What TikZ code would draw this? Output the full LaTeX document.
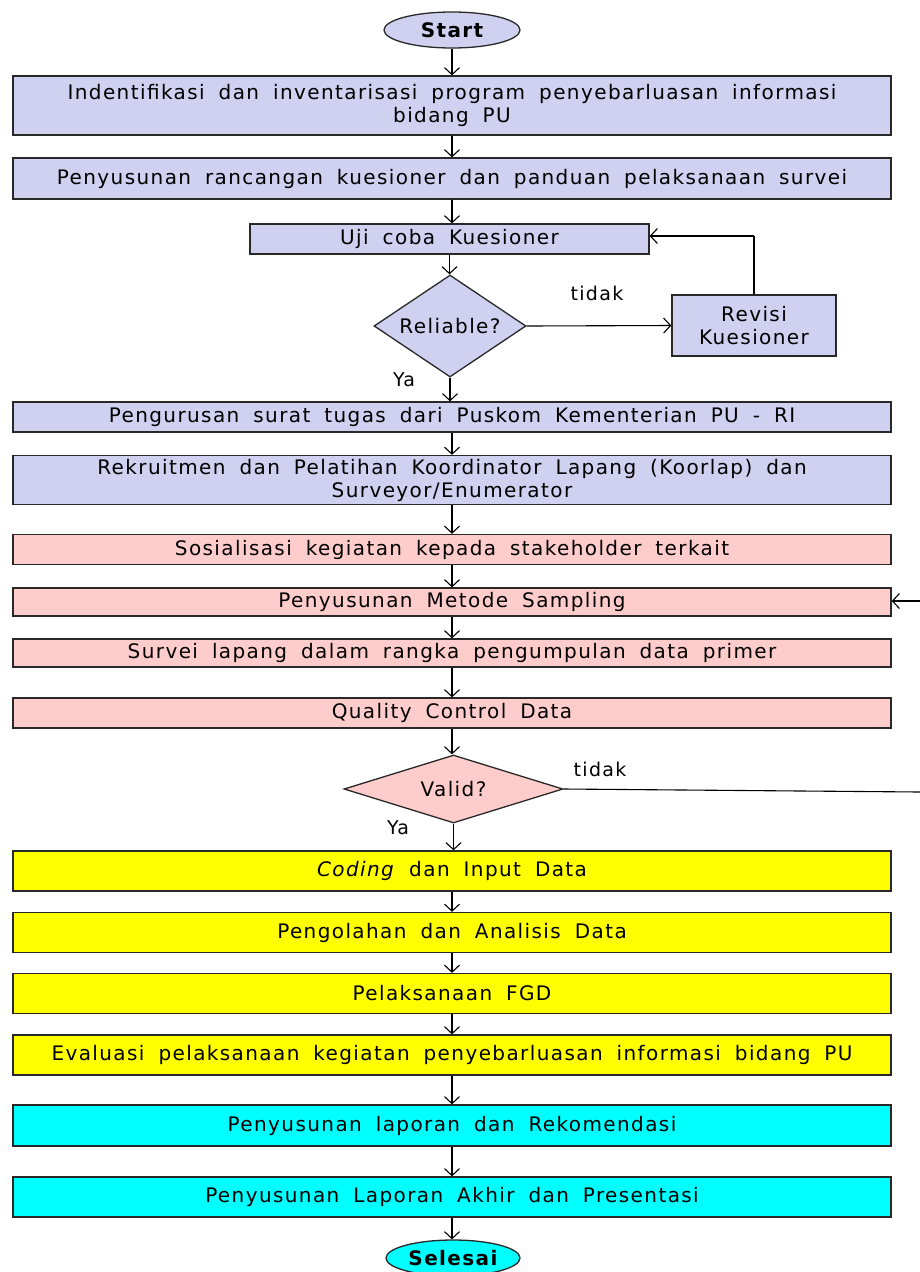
\documentclass[tikz,border=0pt]{standalone}
\usepackage{fontspec}
\setmainfont{DejaVu Sans}[LetterSpace=7,WordSpace=1.8]
\usetikzlibrary{shapes.geometric,arrows.meta}
\definecolor{lav}{RGB}{208,208,240}
\definecolor{pinkb}{RGB}{255,204,204}
\definecolor{yel}{RGB}{255,255,0}
\definecolor{cya}{RGB}{0,255,255}
\definecolor{edge}{RGB}{40,40,40}
\begin{document}
\begin{tikzpicture}[x=1pt,y=-1pt,
  every node/.style={font=\fontsize{20}{23}\selectfont, inner sep=0pt},
  boxn/.style={draw=edge, line width=1.3pt, rectangle, align=center},
  wide/.style={boxn, minimum width=878pt},
  dia/.style={draw=edge, line width=1.3pt, diamond, inner sep=0pt},
  term/.style={draw=edge, line width=1.3pt, ellipse, font=\fontsize{20}{23}\selectfont\bfseries},
  arr/.style={draw=black, line width=1.1pt, -{Straight Barb[length=7pt,width=15pt]}},
  ln/.style={draw=black, line width=1.1pt},
  lbl/.style={font=\fontsize{19}{22}\selectfont}]
\clip (0,0) rectangle (920,1272);
\fill[white] (0,0) rectangle (920,1272);

\node[term, fill=lav, minimum width=136pt, minimum height=36pt] (start) at (452,30) {Start};
\node[wide, fill=lav, minimum height=59pt] (b1) at (452,105.5) {Indentifikasi dan inventarisasi program penyebarluasan informasi\\bidang PU};
\node[wide, fill=lav, minimum height=41pt] (b2) at (452,178.5) {Penyusunan rancangan kuesioner dan panduan pelaksanaan survei};
\node[boxn, fill=lav, minimum width=399pt, minimum height=30pt] (uji) at (449.5,239) {Uji coba Kuesioner};
\node[dia, fill=lav, minimum width=152pt, minimum height=102pt, aspect=1.5] (rel) at (450,326) {Reliable?};
\node[boxn, fill=lav, minimum width=164pt, minimum height=61pt] (rev) at (754,325.5) {Revisi\\Kuesioner};
\node[wide, fill=lav, minimum height=30pt] (b4) at (452,417) {Pengurusan surat tugas dari Puskom Kementerian PU - RI};
\node[wide, fill=lav, minimum height=49pt] (b5) at (452,480) {Rekruitmen dan Pelatihan Koordinator Lapang (Koorlap) dan\\Surveyor/Enumerator};
\node[wide, fill=pinkb, minimum height=30pt] (p1) at (452,549.5) {Sosialisasi kegiatan kepada stakeholder terkait};
\node[wide, fill=pinkb, minimum height=28pt] (p2) at (452,602) {Penyusunan Metode Sampling};
\node[wide, fill=pinkb, minimum height=28pt] (p3) at (452,653) {Survei lapang dalam rangka pengumpulan data primer};
\node[wide, fill=pinkb, minimum height=30pt] (p4) at (452,713) {Quality Control Data};
\node[dia, fill=pinkb, minimum width=219pt, minimum height=68pt, aspect=3.2] (val) at (453.5,789) {Valid?};
\node[wide, fill=yel, minimum height=40pt] (y1) at (452,871) {\textit{Coding} dan Input Data};
\node[wide, fill=yel, minimum height=40pt] (y2) at (452,932.5) {Pengolahan dan Analisis Data};
\node[wide, fill=yel, minimum height=40pt] (y3) at (452,993.5) {Pelaksanaan FGD};
\node[wide, fill=yel, minimum height=40pt] (y4) at (452,1055) {Evaluasi pelaksanaan kegiatan penyebarluasan informasi bidang PU};
\node[wide, fill=cya, minimum height=41pt] (c1) at (452,1125.5) {Penyusunan laporan dan Rekomendasi};
\node[wide, fill=cya, minimum height=40pt] (c2) at (452,1197) {Penyusunan Laporan Akhir dan Presentasi};
\node[term, fill=cya, minimum width=134pt, minimum height=36pt] (end) at (453,1258) {Selesai};

\node[lbl] (t1) at (597,293) {tidak};
\node[lbl] (ya1) at (404,380) {Ya};
\node[lbl] (t2) at (600,769) {tidak};
\node[lbl] (ya2) at (398,828) {Ya};

\coordinate (revtop) at (755,236);
\coordinate (vout) at (920,792);
\coordinate (sin) at (920,601);

\foreach \a/\b in {start/b1,b1/b2,b2/uji,uji/rel,b4/b5,b5/p1,p1/p2,p2/p3,p3/p4,p4/val,y1/y2,y2/y3,y3/y4,y4/c1,c1/c2,c2/end}
  \draw[arr] (\a.south) -- (\a.south |- \b.north);
\draw[arr] (rel.south) -- (rel.south |- b4.north);
\draw[arr] (val.south) -- (val.south |- y1.north);
\draw[arr] (rel.east) -- (rev.west);
\draw[ln] (rev.north) -- (rev.north |- revtop);
\draw[arr] (rev.north |- revtop) -- (uji.east |- revtop);
\draw[ln] (val.east) -- (vout);
\draw[arr] (sin) -- (p2.east |- sin);
\end{tikzpicture}
\end{document}
